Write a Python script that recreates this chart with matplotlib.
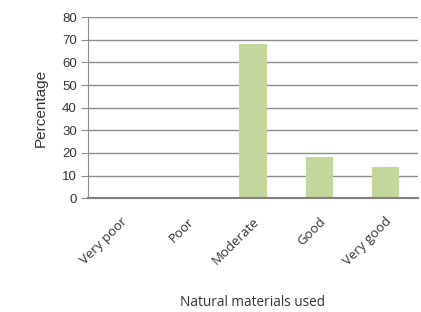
import matplotlib.pyplot as plt

# Data
categories = ["Very poor", "Poor", "Moderate", "Good", "Very good"]
percentages = [0, 0, 68, 18, 13.6]
y_ticks = [0, 10, 20, 30, 40, 50, 60, 70, 80]

fig = plt.figure(figsize=(4.21, 3.12), dpi=100)
ax = fig.add_axes([0.209, 0.365, 0.784, 0.58])

ax.bar(range(len(categories)), percentages, width=0.41, color="#c4d79b", zorder=3)

ax.set_xlim(-0.5, len(categories) - 0.5)
ax.set_ylim(0, 80)
ax.set_yticks(y_ticks)
ax.yaxis.grid(True, color="#8c8c8c", linewidth=1.0, zorder=0)

for side in ["top", "right"]:
    ax.spines[side].set_visible(False)
ax.spines["left"].set_color("#8c8c8c")
ax.spines["bottom"].set_color("#808080")
ax.spines["bottom"].set_linewidth(1.5)
ax.spines["bottom"].set_zorder(4)

ax.tick_params(axis="y", length=5, color="#8c8c8c", labelsize=9.5, pad=3)
ax.tick_params(axis="x", length=0, pad=12)
for lab in ax.get_yticklabels():
    lab.set_family("Liberation Sans")
    lab.set_color("#333333")

ax.set_xticks(range(len(categories)))
ax.set_xticklabels(categories, rotation=45, ha="right", va="top",
                   rotation_mode="anchor", fontsize=9.5, family="Open Sans",
                   color="#333333")

ax.set_ylabel("Percentage", fontsize=11, family="Liberation Sans",
              color="#333333", labelpad=10)
fig.text(0.601, 0.032, "Natural materials used", ha="center", va="center",
         fontsize=9.8, family="Open Sans", color="#333333")

fig.savefig("out.png", dpi=100)
